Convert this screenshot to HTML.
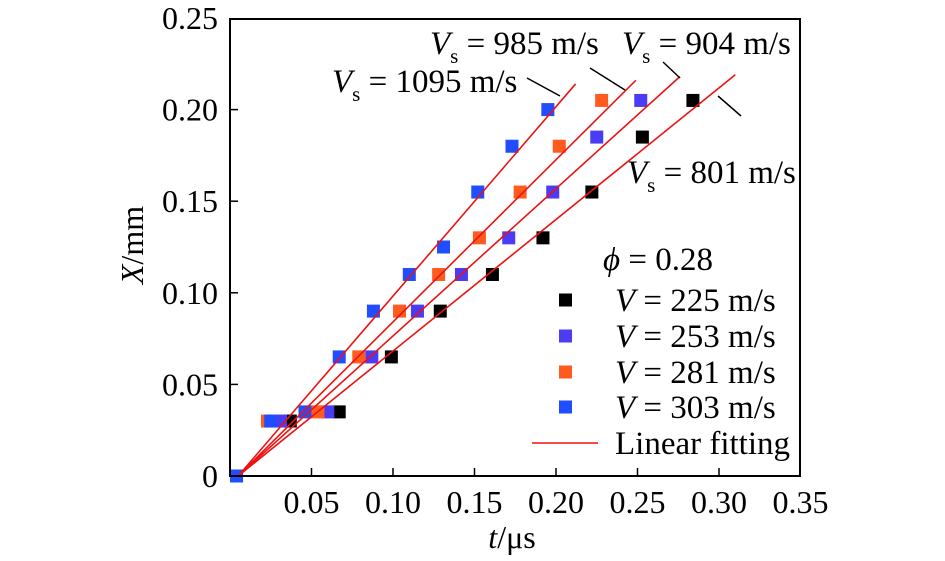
<!DOCTYPE html>
<html><head><meta charset="utf-8"><style>
body{margin:0;background:#fff;}
svg, svg text{font-family:"Liberation Serif","Times New Roman","DejaVu Serif",serif;}
</style></head><body>
<svg id="chart" width="945" height="556" viewBox="0 0 945 556" font-family="Liberation Serif, DejaVu Serif, serif">
<g id="marks"></g>
<rect x="230" y="19" width="570" height="457" fill="none" stroke="#000" stroke-width="2"/>
<g id="axes" font-size="32"></g>
<text x="143" y="245" font-size="32" text-anchor="middle" transform="rotate(-90 143 245)"><tspan font-style="italic">X</tspan>/mm</text>
<text x="512" y="548" font-size="32" text-anchor="middle"><tspan font-style="italic">t</tspan>/μs</text>
<g font-size="33">
<text x="332" y="92"><tspan font-style="italic">V</tspan><tspan font-size="21" dy="9">s</tspan><tspan dy="-9"> = 1095 m/s</tspan></text>
<text x="430" y="54"><tspan font-style="italic">V</tspan><tspan font-size="21" dy="9">s</tspan><tspan dy="-9"> = 985 m/s</tspan></text>
<text x="622" y="54"><tspan font-style="italic">V</tspan><tspan font-size="21" dy="9">s</tspan><tspan dy="-9"> = 904 m/s</tspan></text>
<text x="627" y="183"><tspan font-style="italic">V</tspan><tspan font-size="21" dy="9">s</tspan><tspan dy="-9"> = 801 m/s</tspan></text>
<g stroke="#000" stroke-width="1.5">
<line x1="527" y1="78" x2="560" y2="96"/>
<line x1="590" y1="68" x2="625" y2="90"/>
<line x1="663" y1="62" x2="680" y2="78"/>
<line x1="718" y1="96" x2="741" y2="116"/>
</g></g>
<g id="legend" font-size="33">
<text x="603" y="270"><tspan font-style="italic">ϕ</tspan> = 0.28</text>
</g>
</svg>
<script>
const tBlack=[0.004,0.037,0.067,0.099,0.129,0.161,0.192,0.222,0.253,0.284];
const xBlack=[0,0.03,0.035,0.065,0.09,0.11,0.13,0.155,0.185,0.205];
const tPurple=[0.004,0.031,0.06,0.087,0.115,0.142,0.171,0.198,0.225,0.252];
const xPurple=[0,0.03,0.035,0.065,0.09,0.11,0.13,0.155,0.185,0.205];
const tOrange=[0.004,0.023,0.054,0.079,0.104,0.128,0.153,0.178,0.202,0.228];
const xOrange=[0,0.03,0.035,0.065,0.09,0.11,0.13,0.155,0.18,0.205];
const tBlue=[0.004,0.025,0.046,0.067,0.088,0.110,0.131,0.152,0.173,0.195];
const xBlue=[0,0.03,0.035,0.065,0.09,0.11,0.125,0.155,0.18,0.2];
const fitStartT=[0.005,0.005,0.005,0.005];
const fitEndT=[0.310,0.276,0.249,0.212];
const fitEndX=[0.219,0.218,0.216,0.214];
const seriesLabels=["V = 225 m/s","V = 253 m/s","V = 281 m/s","V = 303 m/s"];
const xTicks=[0.05,0.10,0.15,0.20,0.25,0.30,0.35];
const xTickLabels=["0.05","0.10","0.15","0.20","0.25","0.30","0.35"];
const yTicks=[0,0.05,0.10,0.15,0.20,0.25];
const yTickLabels=["0","0.05","0.10","0.15","0.20","0.25"];

const NS="http://www.w3.org/2000/svg";
const sx=t=>230+t*1630;
const sy=v=>476-v*1832;
function mk(tag,attrs,parent){const e=document.createElementNS(NS,tag);for(const k in attrs)e.setAttribute(k,attrs[k]);parent.appendChild(e);return e;}
const marks=document.getElementById('marks'),axes=document.getElementById('axes'),legend=document.getElementById('legend');
const colors=["#000000","#4b3bf2","#ff5b1f","#1f4dff"];
const series=[[tBlack,xBlack],[tPurple,xPurple],[tOrange,xOrange],[tBlue,xBlue]];
const names=["black-225","purple-253","orange-281","blue-303"];
series.forEach((s,i)=>{
  s[0].forEach((t,j)=>{
    const r=mk('rect',{x:sx(t)-6.5,y:sy(s[1][j])-6.5,width:13,height:13,fill:colors[i]},marks);
    
    
  });
});
for(let i=0;i<4;i++){
  const l=mk('line',{x1:sx(fitStartT[i]),y1:sy(0),x2:sx(fitEndT[i]),y2:sy(fitEndX[i]),stroke:"#ee1111","stroke-width":1.6},marks);
  
  
}
xTicks.forEach((v,i)=>{
  if(v<0.35){const tk=mk('line',{x1:sx(v),y1:476,x2:sx(v),y2:468,stroke:"#000","stroke-width":1.5},axes);
  
  }
  const tx=mk('text',{x:sx(v),y:513,"text-anchor":"middle"},axes);tx.textContent=xTickLabels[i];
  
  
});
yTicks.forEach((v,i)=>{
  if(v>0&&v<0.25){const tk=mk('line',{x1:230,y1:sy(v),x2:238,y2:sy(v),stroke:"#000","stroke-width":1.5},axes);
  
  }
  const tx=mk('text',{x:218,y:sy(v)+11,"text-anchor":"end"},axes);tx.textContent=yTickLabels[i];
  
  
});
const ly=[300,336,372,407];
seriesLabels.forEach((s,i)=>{
  const r=mk('rect',{x:559,y:ly[i]-6.5,width:13,height:13,fill:colors[i]},legend);
  
  
  const tx=mk('text',{x:615,y:ly[i]+11},legend);
  tx.innerHTML='<tspan font-style="italic">V</tspan>'+s.slice(1);
  
  
});
const ll=mk('line',{x1:532,y1:443,x2:598,y2:443,stroke:"#ee1111","stroke-width":1.6},legend);


const lt=mk('text',{x:615,y:454},legend);lt.textContent="Linear fitting";


</script>
</body></html>
